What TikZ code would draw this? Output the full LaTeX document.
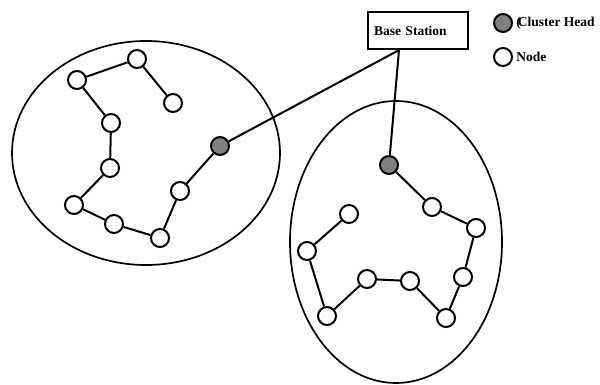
\documentclass[tikz,border=0pt]{standalone}
\usepackage{fontspec}
\setmainfont{Liberation Serif}
\usetikzlibrary{positioning}

\begin{document}
\begin{tikzpicture}[x=1pt,y=-1pt,
      line width=2pt,
      font=\fontsize{13.5}{15}\selectfont\bfseries,
      sensor/.style ={draw,circle,fill=white,minimum size=18pt,inner sep=0pt},
      head/.style   ={sensor,fill=black!50},
      cluster/.style={draw,line width=1.7pt},
      station/.style={draw,line width=2.2pt,minimum width=100pt,minimum height=37pt,
                      text width=88pt,inner xsep=6pt,align=left}]
      \useasboundingbox (0,0) rectangle (600,385);

      % Clusters
      \draw[cluster] (146,153) ellipse [x radius=134pt, y radius=112pt];
      \draw[cluster] (396,242) ellipse [x radius=106pt, y radius=141pt];

      % Left cluster nodes
      \foreach \n/\p in {a1/{(77,80)},a2/{(137,59)},a3/{(173,103)},a4/{(111,123)},
                         a5/{(110,168)},a6/{(74,205)},a7/{(114,224)},a8/{(160,238)},
                         a9/{(180,191)}}
        \node[sensor] (\n) at \p {};
      \node[head] (ch1) at (220,146) {};

      % Right cluster nodes
      \foreach \n/\p in {b1/{(432,207)},b2/{(476,228)},b3/{(463,277)},b4/{(446,318)},
                         b5/{(410,281)},b6/{(367,279)},b7/{(327,316)},b8/{(307,251)},
                         b9/{(349,214)}}
        \node[sensor] (\n) at \p {};
      \node[head] (ch2) at (389,165) {};

      % Chains
      \draw (a3) -- (a2) -- (a1) -- (a4) -- (a5) -- (a6) -- (a7) -- (a8) -- (a9) -- (ch1);
      \draw (ch2) -- (b1) -- (b2) -- (b3) -- (b4) -- (b5) -- (b6) -- (b7) -- (b8) -- (b9);

      % Base station
      \node[station] (bs) at (418,30.5) {Base Station};
      \coordinate (bsin) at ([xshift=-19pt]bs.south);
      \draw (ch1) -- (bsin);
      \draw (ch2) -- (bsin);

      % Legend
      \node[head] (lgch) at (503,23) {};
      \node[right=-1pt of lgch] (lgchtxt) {(\kern-3pt Cluster Head};
      \node[sensor] (lgnd) at (503,57) {};
      \node[right=-1pt of lgnd] (lgndtxt) {Node};
\end{tikzpicture}
\end{document}
